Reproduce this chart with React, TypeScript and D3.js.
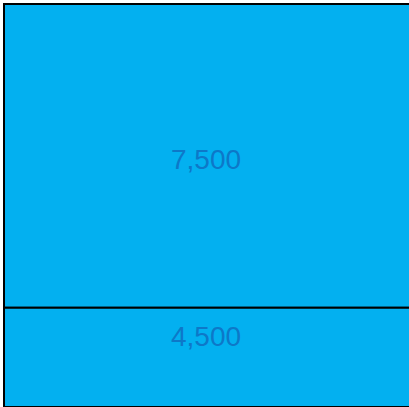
import React from "react";
import * as d3 from "d3";

const categories = ["A", "B"];
const values = [7500, 4500];
const labels = ["7,500", "4,500"];
const scaleMax = 10000;

const W = 409;
const H = 407;
const frame = { x0: 4, y0: 4, x1: 411, y1: 407 };

export default function App() {
  const y = d3.scaleLinear().domain([0, scaleMax]).range([frame.y0, 308.5 + (308.5 - frame.y0) / 3 - 1]);
  const cum = d3.cumsum(values);
  const cells = values.map((v, i) => {
    const start = i === 0 ? 0 : cum[i - 1];
    const y0 = y(start);
    const y1 = y(start + v);
    const clipped = y1 > frame.y1;
    const visBottom = Math.min(y1, frame.y1);
    const labelY = clipped ? y0 + 38 : (y0 + visBottom) / 2 + 13;
    return { key: categories[i], y0, y1, label: labels[i], labelY };
  });
  const fmt = d3.format(",");
  return (
    <svg
      width={W}
      height={H}
      style={{ position: "absolute", left: 0, top: 0, overflow: "hidden" }}
    >
      <defs>
        <clipPath id="frameClip">
          <rect x={frame.x0} y={frame.y0} width={frame.x1 - frame.x0} height={frame.y1 - frame.y0} />
        </clipPath>
      </defs>
      <g clipPath="url(#frameClip)">
        {cells.map((c) => (
          <rect
            key={c.key}
            x={frame.x0}
            y={c.y0}
            width={frame.x1 - frame.x0}
            height={c.y1 - c.y0}
            fill="#03b0f0"
            stroke="#000"
            strokeWidth={2}
          />
        ))}
      </g>
      <rect
        x={frame.x0}
        y={frame.y0}
        width={frame.x1 - frame.x0}
        height={frame.y1 - frame.y0}
        fill="none"
        stroke="#000"
        strokeWidth={2}
      />
      {cells.map((c, i) => (
        <text
          key={c.key + "-l"}
          x={206}
          y={c.labelY}
          textAnchor="middle"
          fontFamily="'Liberation Sans', Arial, sans-serif"
          fontSize={28}
          fill="#0d78c8"
        >
          {fmt(values[i])}
        </text>
      ))}
    </svg>
  );
}
